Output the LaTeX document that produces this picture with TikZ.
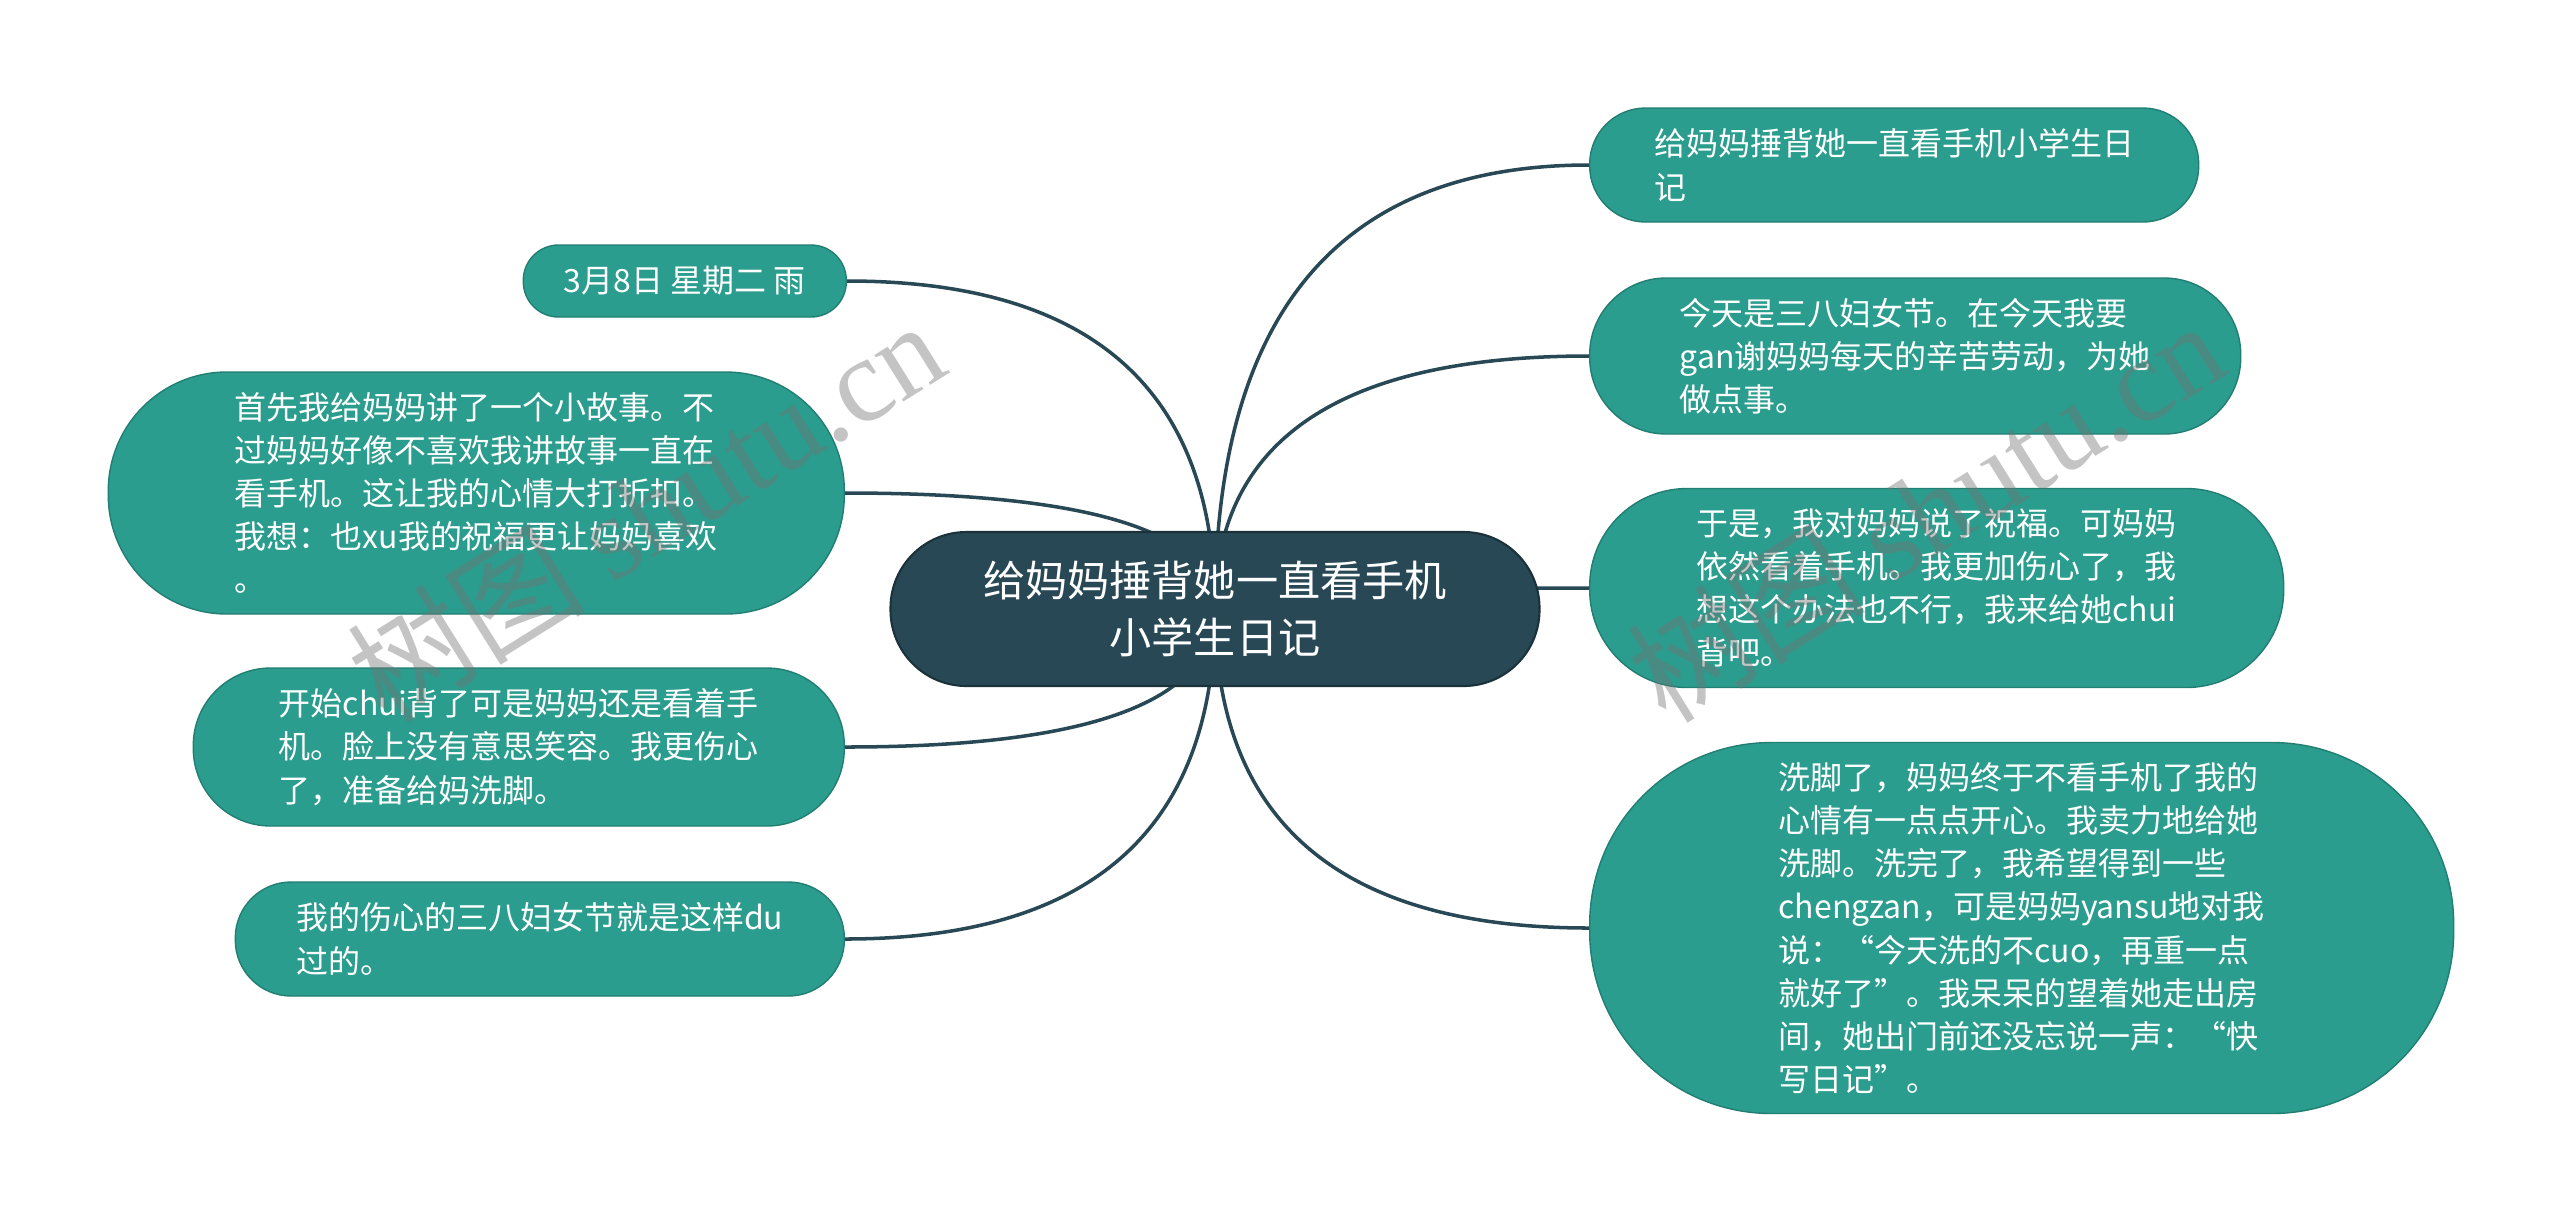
\documentclass[tikz,border=0pt]{standalone}
\usepackage{fontspec}
\setmainfont{Noto Sans CJK SC}
\newfontfamily\wmfont{Liberation Serif}
\usetikzlibrary{calc,backgrounds}
\definecolor{deepslate}{RGB}{39,72,84}
\definecolor{sea}{RGB}{43,157,142}
\tikzset{
  topic/.style={fill=deepslate, draw=deepslate!70!black, line width=0.6pt, text=white, align=center,
    font=\fontsize{12pt}{16.3pt}\selectfont, minimum width=6.49cm, minimum height=1.54cm, rounded corners=0.76cm},
  leaf/.style 2 args={fill=sea, draw=sea!80!black, line width=0.4pt, text=white, align=left, inner sep=0pt,
    font=\fontsize{9.1pt}{12.3pt}\selectfont, minimum width=#1cm, minimum height=#2cm, rounded corners=#2*0.49cm},
  branch/.style={draw=deepslate, line width=1pt},
  wm/.style={text=black!55, opacity=0.42, rotate=32, font=\fontsize{34pt}{34pt}\selectfont}
}

\begin{document}
\begin{tikzpicture}
    \useasboundingbox (0,0) rectangle (25.6,-12.2);

    \node[topic] (C) at (12.15,-6.09) {给妈妈捶背她一直看手机\\小学生日记};

    \node[leaf={3.23}{0.72}, anchor=east] (L1) at (8.47,-2.81) {3月8日 星期二 雨};
    \node[leaf={7.36}{2.42}, anchor=east] (L2) at (8.45,-4.93) {首先我给妈妈讲了一个小故事。不\\过妈妈好像不喜欢我讲故事一直在\\看手机。这让我的心情大打折扣。\\我想：也xu我的祝福更让妈妈喜欢\\。};
    \node[leaf={6.51}{1.58}, anchor=east] (L3) at (8.45,-7.47) {开始chui背了可是妈妈还是看着手\\机。脸上没有意思笑容。我更伤心\\了，准备给妈洗脚。};
    \node[leaf={6.09}{1.14}, anchor=east] (L4) at (8.45,-9.39) {我的伤心的三八妇女节就是这样du\\过的。};

    \node[leaf={6.09}{1.14}, anchor=west] (R1) at (15.89,-1.65) {给妈妈捶背她一直看手机小学生日\\记};
    \node[leaf={6.51}{1.56}, anchor=west] (R2) at (15.89,-3.56) {今天是三八妇女节。在今天我要\\gan谢妈妈每天的辛苦劳动，为她\\做点事。};
    \node[leaf={6.94}{1.99}, anchor=west] (R3) at (15.89,-5.88) {于是，我对妈妈说了祝福。可妈妈\\依然看着手机。我更加伤心了，我\\想这个办法也不行，我来给她chui\\背吧。};
    \node[leaf={8.64}{3.71}, anchor=west] (R4) at (15.89,-9.28) {洗脚了，妈妈终于不看手机了我的\\心情有一点点开心。我卖力地给她\\洗脚。洗完了，我希望得到一些\\chengzan，可是妈妈yansu地对我\\说：“今天洗的不cuo，再重一点\\就好了”。我呆呆的望着她走出房\\间，她出门前还没忘说一声：“快\\写日记”。};

    \begin{scope}[on background layer]
        \fill[white] (0,0) rectangle (25.6,-12.2);
        \foreach \t in {L1.east,L2.east,L3.east,L4.east,R1.west,R2.west,R3.west,R4.west}
            \draw[branch] (C.center) .. controls ($(C.center)!2/3!(C.center |- \t)$) and ($(\t)!2/3!(C.center |- \t)$) .. (\t);
    \end{scope}

    \node[wm] (wmL) at (6.45,-5.10) {树图 {\wmfont shutu.cn}};
    \node[wm] (wmR) at (19.25,-5.10) {树图 {\wmfont shutu.cn}};
\end{tikzpicture}
\end{document}
